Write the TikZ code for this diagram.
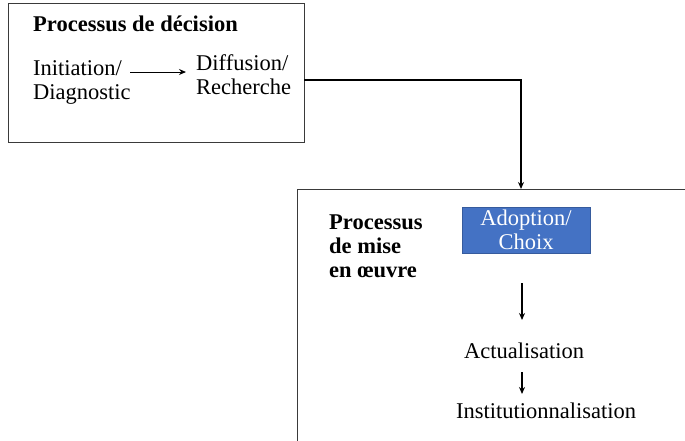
\documentclass[tikz,border=0pt]{standalone}
\usepackage{fontspec}
\setmainfont{Liberation Serif}
\usetikzlibrary{arrows.meta}
\definecolor{adoptblue}{HTML}{4472C4}
\definecolor{frame}{HTML}{3A3A3A}
\begin{document}
\begin{tikzpicture}[x=1pt,y=-1pt,
  txt/.style={inner sep=0pt,font=\fontsize{22.5}{24}\selectfont},
  ttl/.style={txt,font=\fontsize{22.5}{24}\selectfont\bfseries},
  frm/.style={draw=frame,line width=0.9pt},
  conn/.style={draw=black,line width=1.3pt,-{Stealth[length=7pt,width=6pt]}}]
\useasboundingbox (0,0) rectangle (685,440);
% frames
\draw[frm] (8,3) rectangle (304,142);
\draw[frm] (690,189) -- (297,189) -- (297,445);
\coordinate (topR) at (304,80);
\coordinate (lowTop) at (521,189);
% decision process
\node[ttl,anchor=west] (t1) at (33,24) {Processus de décision};
\node[txt,anchor=west,align=left] (init) at (33,82) {Initiation/\\Diagnostic};
\node[txt,anchor=west,align=left] (diff) at (196,75) {Diffusion/\\Recherche};
\draw[conn,line width=1pt] (130,72) coordinate (a1) -- (186,72) coordinate (a2);
% link between the two processes
\draw[conn] (topR) -| (lowTop);
% implementation process
\node[ttl,anchor=west,align=left] (t2) at (329,246) {Processus\\de mise\\en œuvre};
\node[fill=adoptblue,draw=adoptblue!80!black,line width=0.5pt,minimum width=128pt,minimum height=46pt,inner sep=0pt,
      text=white,align=center,font=\fontsize{22.5}{24}\selectfont] (adopt) at (526,230) {Adoption/\\Choix};
\node[txt] (act) at (524,351) {Actualisation};
\node[txt] (inst) at (546,411) {Institutionnalisation};
\draw[conn] (522,283) -- (522,320);
\draw[conn] (522,372) -- (522,394);
\end{tikzpicture}
\end{document}
